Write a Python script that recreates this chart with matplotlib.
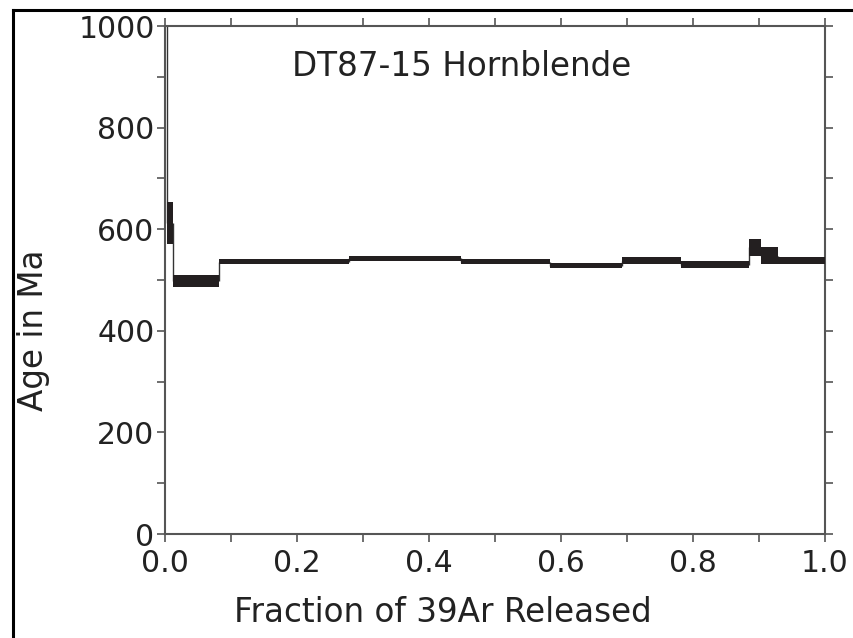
import numpy as np
import matplotlib
matplotlib.use('Agg')
import matplotlib.pyplot as plt
from matplotlib.lines import Line2D
from matplotlib.ticker import MultipleLocator

# step heating spectrum
frac_edges = [0.0, 0.003, 0.012, 0.082, 0.279, 0.448, 0.583, 0.692, 0.782, 0.885, 0.903, 0.929, 1.0]
ages = [1500, 612, 498, 536, 543, 536, 528, 538, 530, 564, 548, 538]
errs = [40, 42, 12, 5, 5, 5, 5, 7, 7, 17, 17, 7]

x_ticks = [0.0, 0.2, 0.4, 0.6, 0.8, 1.0]
y_ticks = [0, 200, 400, 600, 800, 1000]

plt.rcParams['font.family'] = 'DejaVu Sans'
FS = 21.5      # tick labels
FS_LAB = 23.5  # axis labels and title
box_col = '#231f20'
axis_col = '#555555'
txt_col = '#222222'

fig = plt.figure(figsize=(8.54, 6.38), dpi=100)
ax = fig.add_axes([165/854, 1-534/638, 660/854, 508/638])

left = np.array(frac_edges[:-1])
width = np.diff(frac_edges)
ages = np.array(ages)
errs = np.array(errs)

# boxes (2 sigma) for each step
ax.bar(left, 2*errs, bottom=ages-errs, width=width, align='edge',
       color=box_col, edgecolor='none', zorder=3)
# thin connectors between steps
ax.vlines(frac_edges[1:-1], ages[:-1], ages[1:], color='#333333', lw=1.0, zorder=2)

ax.set_xlim(0, 1)
ax.set_ylim(0, 1000)
ax.set_xticks(x_ticks)
ax.set_yticks(y_ticks)
ax.set_xticklabels(['%.1f' % v for v in x_ticks])
ax.xaxis.set_minor_locator(MultipleLocator(0.1))
ax.yaxis.set_minor_locator(MultipleLocator(100))
ax.tick_params(which='both', direction='out', length=6, width=1.2, color=axis_col,
               top=True, right=True, labelsize=FS, labelcolor=txt_col)
ax.tick_params(axis='y', pad=1.5)
ax.tick_params(axis='x', pad=5)
for s in ax.spines.values():
    s.set_color(axis_col)
    s.set_linewidth(1.5)

fig.text(462/854, 1-66/638, 'DT87-15 Hornblende', ha='center', va='center',
         fontsize=FS_LAB, color=txt_col)
fig.text(443/854, 1-612/638, 'Fraction of 39Ar Released', ha='center', va='center',
         fontsize=FS_LAB, color=txt_col)
fig.text(33/854, 1-330/638, 'Age in Ma', rotation=90, ha='center', va='center',
         fontsize=FS_LAB, color=txt_col)

# outer frame (left and top edges visible)
fx, fy = 13/854, 1-10/638
fig.add_artist(Line2D([fx, fx], [0, fy], transform=fig.transFigure, color='black', lw=2.2))
fig.add_artist(Line2D([fx, 1], [fy, fy], transform=fig.transFigure, color='black', lw=2.2))

fig.savefig('out.png', dpi=100)
